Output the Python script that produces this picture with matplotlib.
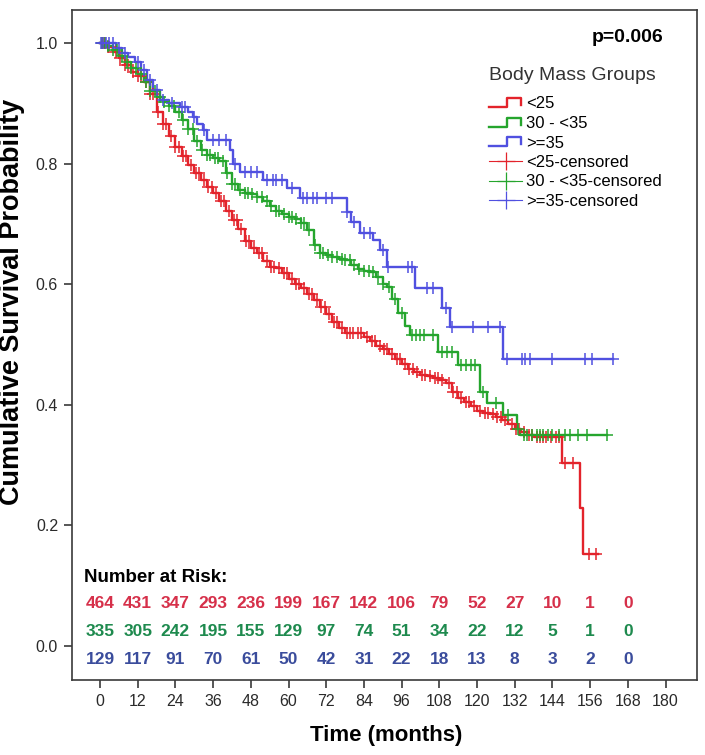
import matplotlib
matplotlib.use('Agg')
import matplotlib.pyplot as plt
from matplotlib.lines import Line2D
from matplotlib.legend_handler import HandlerBase
import numpy as np

# ---------------- data ----------------
groups = ['<25', '30 - <35', '>=35']

red_times = [0, 2, 4, 6, 8, 10, 12, 14, 16, 18, 20, 22, 24, 26, 28, 30, 32, 34, 36, 38,
             40, 42, 44, 46, 48, 50, 52, 54, 56, 58, 60, 62, 64, 66, 68, 70, 72, 74, 76, 78,
             84, 86, 88, 90, 92, 94, 96, 98, 100, 102, 104, 106, 108, 110, 112, 114, 116,
             118, 120, 122, 124, 126, 128, 130, 132, 134, 136, 138, 147, 152.8, 153.7]
red_surv = [1.0, 0.993, 0.985, 0.975, 0.963, 0.952, 0.945, 0.935, 0.915, 0.885, 0.865, 0.845,
            0.828, 0.812, 0.798, 0.785, 0.772, 0.762, 0.751, 0.738, 0.722, 0.706, 0.692, 0.672,
            0.660, 0.652, 0.638, 0.629, 0.627, 0.618, 0.608, 0.600, 0.593, 0.583, 0.573, 0.563,
            0.550, 0.538, 0.528, 0.519, 0.512, 0.505, 0.498, 0.492, 0.484, 0.476, 0.468, 0.460,
            0.455, 0.450, 0.447, 0.444, 0.441, 0.436, 0.422, 0.412, 0.405, 0.398, 0.390, 0.386,
            0.385, 0.380, 0.374, 0.368, 0.360, 0.355, 0.350, 0.346, 0.303, 0.229, 0.153]
red_end = 158.5
red_cens = [0.5, 1, 1.5, 2.5, 3, 5, 6.5, 8, 9, 10.5, 12, 13, 14.5, 16, 17, 18.5, 20, 21, 22.5,
            24, 25, 26.5, 27.5, 29, 30.5, 31.5, 33, 34.5, 35.5, 37, 38.5, 39.5, 41, 42.5, 43.5,
            45, 46.5, 47.5, 49, 50.5, 51.5, 53, 54.5, 55.5, 57, 58.5, 59.5, 61, 62.5, 63.5, 65,
            66.5, 67.5, 69, 70.5, 71.5, 73, 74.5, 75.5, 77, 78.5, 79.5, 80.5, 82, 83, 85, 86.5,
            87.5, 89, 90.5, 91.5, 93, 94.5, 95.5, 97, 98.5, 99.5, 101, 102.5, 103.5, 105, 106.5,
            107.5, 109, 111, 112.5, 113.5, 115, 116.5, 117.5, 119, 121, 122.5, 123.5, 125, 126.5,
            127.5, 129, 131, 132.5, 133.5, 135, 136.5, 137.5, 139, 140, 141, 142, 143.5, 145,
            146, 148, 150.5, 155.5, 158]

green_times = [0, 2, 4, 6, 8, 10, 12, 14, 16, 18, 20, 22, 24, 26, 28, 30, 32, 34, 36, 38, 40,
               42, 44, 46, 48, 50, 52, 54, 56, 58, 60, 62, 64, 66, 68, 70, 72, 74, 76, 78, 80,
               82, 84, 86, 88, 90, 91.3, 93, 95, 97, 98.7, 107.6, 113.9, 120.9, 123.2, 128.3,
               132.7, 133.7]
green_surv = [1.0, 0.995, 0.988, 0.978, 0.968, 0.958, 0.948, 0.935, 0.920, 0.910, 0.902, 0.895,
              0.885, 0.872, 0.858, 0.838, 0.822, 0.815, 0.810, 0.805, 0.785, 0.766, 0.756, 0.752,
              0.749, 0.745, 0.738, 0.730, 0.722, 0.716, 0.712, 0.708, 0.702, 0.690, 0.665, 0.652,
              0.648, 0.645, 0.642, 0.640, 0.632, 0.626, 0.622, 0.620, 0.612, 0.600, 0.595, 0.575,
              0.552, 0.530, 0.516, 0.488, 0.466, 0.421, 0.403, 0.383, 0.360, 0.350]
green_end = 161.4
green_cens = [0.5, 1.5, 2.5, 4, 5.5, 7, 8.5, 10, 11.5, 13, 14.5, 16, 17.5, 19, 20.5, 22, 23.5,
              25, 26.5, 28, 29.5, 31, 32.5, 34, 35, 36.5, 37.5, 39, 40.5, 42, 43, 44.5, 46, 47,
              48.5, 50, 51.5, 53, 54.5, 56, 57, 58.5, 60, 61, 62.5, 64, 65, 66.5, 68.5, 70, 71,
              72.5, 74, 75.5, 77, 78, 79.5, 81, 82.5, 84, 85.5, 87, 88.5, 90, 92, 94, 96, 99.3,
              100.5, 102, 103, 106, 109, 110.5, 112, 115, 116.5, 118, 119.5, 122, 126, 130, 133,
              135, 136, 137.5, 139, 140, 141, 142.5, 144, 146, 148, 149.5, 152, 155, 161.4]

blue_times = [0, 5, 7, 9, 11, 13, 15, 17, 19, 22, 25.5, 28, 29.6, 31, 32.8, 34, 41.4, 42.3,
              44.6, 51.9, 59.5, 63.7, 78.6, 80, 82.7, 87, 89.1, 91.3, 100.3, 108.8, 111.4, 128.3]
blue_surv = [1.0, 0.992, 0.984, 0.976, 0.968, 0.955, 0.939, 0.922, 0.905, 0.900, 0.894, 0.885,
             0.877, 0.866, 0.856, 0.839, 0.822, 0.800, 0.786, 0.773, 0.760, 0.743, 0.720, 0.703,
             0.685, 0.673, 0.657, 0.629, 0.594, 0.560, 0.529, 0.476]
blue_end = 163.3
blue_cens = [0.3, 1, 2, 3, 4, 6, 8, 12, 14, 16, 18, 20, 23, 26, 27, 30, 33, 36, 38, 40, 43, 46,
             48, 50, 53, 55, 56, 58, 61, 64.6, 65.9, 67.8, 69, 72, 74, 78.6, 81, 84, 86, 90, 91.7,
             98, 99.3, 104, 106, 110, 112, 118.7, 123.5, 127.3, 129.5, 134.3, 135.3, 136.9,
             143.9, 154.4, 156.6, 163.3]

risk_times = [0, 12, 24, 36, 48, 60, 72, 84, 96, 108, 120, 132, 144, 156, 168]
risk_red = [464, 431, 347, 293, 236, 199, 167, 142, 106, 79, 52, 27, 10, 1, 0]
risk_green = [335, 305, 242, 195, 155, 129, 97, 74, 51, 34, 22, 12, 5, 1, 0]
risk_blue = [129, 117, 91, 70, 61, 50, 42, 31, 22, 18, 13, 8, 3, 2, 0]

x_ticks = list(range(0, 181, 12))
y_ticks = [0.0, 0.2, 0.4, 0.6, 0.8, 1.0]

# ---------------- style ----------------
line_cols = ['#e3232b', '#25a52d', '#5050e0']
risk_cols = ['#d6304a', '#1e8a4e', '#3a4c9c']
SANS = ['Liberation Sans', 'DejaVu Sans']
plt.rcParams['font.family'] = SANS

W, H = 705, 755
fig = plt.figure(figsize=(W / 100, H / 100), dpi=100)
L, R, T, B = 72, 697, 10, 680
ax = fig.add_axes([L / W, 1 - B / H, (R - L) / W, (B - T) / H])

px_per_month = 37.7 / 12
x0px = 100
ax.set_xlim((L - x0px) / px_per_month, (R - x0px) / px_per_month)
y1px, y0px = 43, 646
ax.set_ylim(-(B - y0px) / (y0px - y1px), 1 + (y1px - T) / (y0px - y1px))


def surv_at(times, surv, t):
    idx = np.searchsorted(np.asarray(times), np.asarray(t), side='right') - 1
    return np.asarray(surv)[idx]


series = [(red_times, red_surv, red_end, red_cens),
          (green_times, green_surv, green_end, green_cens),
          (blue_times, blue_surv, blue_end, blue_cens)]
for (tt, ss, te, cc), col in zip(series, line_cols):
    xs = list(tt) + [te]
    ys = list(ss) + [ss[-1]]
    ax.step(xs, ys, where='post', color=col, lw=1.7, zorder=3)
    ax.plot(cc, surv_at(tt, ss, cc), ls='none', marker='+', ms=9, mew=1.1,
            color=col, zorder=4)

# axes styling
for sp in ax.spines.values():
    sp.set_color('#3a3a3a')
    sp.set_linewidth(1.2)
ax.set_xticks(x_ticks)
ax.set_xticklabels([str(v) for v in x_ticks])
ax.set_yticks(y_ticks)
ax.set_yticklabels(['%.1f' % v for v in y_ticks])
ax.tick_params(axis='both', direction='out', length=6, width=1.2, color='#3a3a3a',
               labelcolor='#2a2a2a', labelsize=11.5, pad=4)

fig.text(12 / W, 1 - 302 / H, 'Cumulative Survival Probability', rotation=90,
         ha='center', va='center', fontsize=19.5, fontweight='bold')
fig.text(386 / W, 1 - 736 / H, 'Time (months)', ha='center', va='center',
         fontsize=16, fontweight='bold')

# p-value
fig.text(663 / W, 1 - 38 / H, 'p=0.006', ha='right', va='center', fontsize=14,
         fontweight='bold')

# risk table
tr = ax.get_xaxis_transform()


def yfrac(py):
    return (B - py) / (B - T)


ax.text(-5.2, yfrac(577), 'Number at Risk:', transform=tr, ha='left', va='center',
        fontsize=13.5, fontweight='bold', color='black')
for vals, col, py in zip([risk_red, risk_green, risk_blue], risk_cols, [603, 632, 660]):
    for t, v in zip(risk_times, vals):
        ax.text(t, yfrac(py), str(v), transform=tr, ha='center', va='center',
                fontsize=12.5, fontweight='bold', color=col)


# legend
class StepProxy(Line2D):
    pass


class StepHandler(HandlerBase):
    def create_artists(self, legend, orig_handle, xdescent, ydescent, width, height,
                       fontsize, trans):
        xs = np.array([0.0, 0.55, 0.55, 0.97, 0.97]) * width - xdescent
        ys = np.array([0.1, 0.1, 0.9, 0.9, 0.3]) * height - ydescent
        ln = Line2D(xs, ys, color=orig_handle.get_color(), lw=1.7)
        ln.set_transform(trans)
        return [ln]


handles = [StepProxy([], [], color=c) for c in line_cols]
handles += [Line2D([], [], color=c, lw=0.8, marker='+', ms=13, mew=0.9) for c in line_cols]
labels = groups + [g + '-censored' for g in groups]
leg = ax.legend(handles, labels, handler_map={StepProxy: StepHandler()},
                loc='upper left', bbox_to_anchor=(489 / W, 1 - 67 / H),
                bbox_transform=fig.transFigure, frameon=False,
                title='Body Mass Groups', title_fontsize=14, alignment='left',
                handlelength=2.0, handletextpad=0.2, labelspacing=0.27,
                borderpad=0, borderaxespad=0, prop={'size': 12})
leg.get_title().set_color('#333333')
leg._legend_box.sep = 9

fig.savefig('out.png', dpi=100)
